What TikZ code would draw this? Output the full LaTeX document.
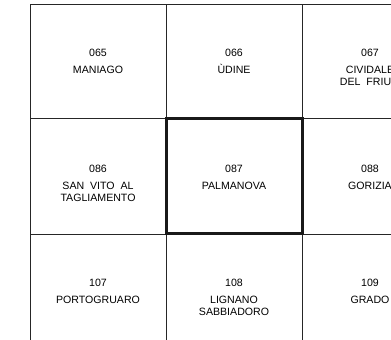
\documentclass[tikz,border=0pt]{standalone}
\usepackage{fontspec}
\setmainfont{Liberation Sans}
\begin{document}
\begin{tikzpicture}[x=1pt,y=-1pt,
  gridline/.style={draw=black!85, line width=1pt},
  boldline/.style={draw=black!90, line width=3pt},
  lab/.style={font=\fontsize{10.6}{12}\selectfont, text=black, anchor=base, inner sep=0pt}]
\useasboundingbox (0,0) rectangle (391,340);
\clip (0,0) rectangle (391,340);
\fill[white] (0,0) rectangle (391,340);
% grid
\draw[gridline] (30,340) -- (30,4) -- (391,4);
\draw[gridline] (166,4) -- (166,340);
\draw[gridline] (302,4) -- (302,340);
\draw[gridline] (30,118) -- (391,118);
\draw[gridline] (30,234) -- (391,234);
\draw[boldline] (166.5,118.5) rectangle (302,233);
% row 1 (top 4)
\node[lab] (n065) at (98,56.8) {065};
\node[lab] (t065) at (98,73.8) {MANIAGO};
\node[lab] (n066) at (234,56.8) {066};
\node[lab] (t066) at (234,73.8) {ÙDINE};
\node[lab] (n067) at (370,56.8) {067};
\node[lab] (t067) at (370,73.8) {CIVIDALE};
\node[lab] (t067b) at (370,85.8) {DEL\ \ FRIULI};
% row 2 (top 118)
\node[lab] (n086) at (98,172.3) {086};
\node[lab] (t086) at (98,189.3) {SAN\ \ VITO\ \ AL};
\node[lab] (t086b) at (98,201.3) {TAGLIAMENTO};
\node[lab] (n087) at (234,172.3) {087};
\node[lab] (t087) at (234,189.3) {PALMANOVA};
\node[lab] (n088) at (370,172.3) {088};
\node[lab] (t088) at (370,189.3) {GORIZIA};
% row 3 (top 234)
\node[lab] (n107) at (98,286.8) {107};
\node[lab] (t107) at (98,303.8) {PORTOGRUARO};
\node[lab] (n108) at (234,286.8) {108};
\node[lab] (t108) at (234,303.8) {LIGNANO};
\node[lab] (t108b) at (234,315.8) {SABBIADORO};
\node[lab] (n109) at (370,286.8) {109};
\node[lab] (t109) at (370,303.8) {GRADO};
\end{tikzpicture}
\end{document}
